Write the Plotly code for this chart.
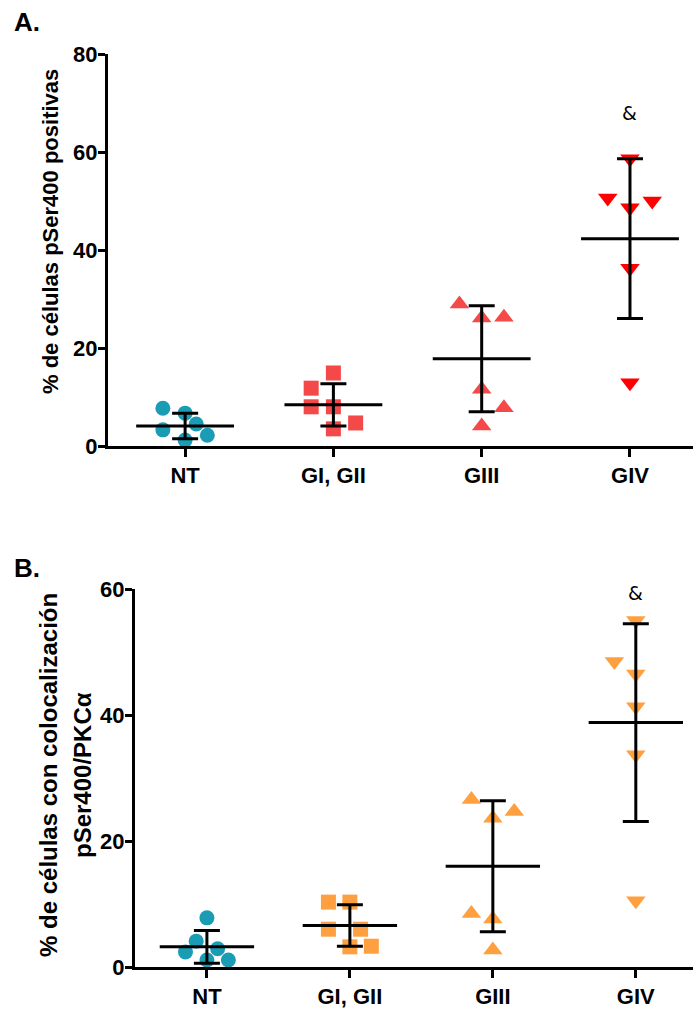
import plotly.graph_objects as go

# ---------------- data ----------------
categories = ["NT", "GI, GII", "GIII", "GIV"]

# Panel A: % de células pSer400 positivas
a_values = [
    [7.7, 6.7, 3.3, 4.5, 2.2, 1.2],
    [11.8, 8.0, 14.9, 8.0, 3.5, 4.7],
    [29.0, 26.1, 26.3, 11.6, 7.8, 4.1],
    [58.6, 50.6, 50.0, 48.6, 36.3, 12.9],
]
a_slots = [
    [-2, 0, -2, 1, 2, 0],
    [-2, -2, 0, 0, 0, 2],
    [-2, 0, 2, 0, 2, 0],
    [0, -2, 2, 0, 0, 0],
]
a_mean = [4.1, 8.4, 17.8, 42.3]
a_sd = [2.6, 4.3, 10.8, 16.3]

# Panel B: % de células con colocalización pSer400/PKCα
b_values = [
    [7.8, 4.1, 2.4, 2.9, 1.1, 1.1],
    [10.3, 10.3, 6.0, 6.0, 3.2, 3.3],
    [26.6, 23.6, 24.7, 8.5, 7.6, 2.7],
    [55.0, 48.5, 46.5, 41.3, 33.7, 10.5],
]
b_slots = [
    [0, -1, -2, 1, 0, 2],
    [-2, 0, -2, 1, 0, 2],
    [-2, 0, 2, -2, 0, 0],
    [0, -2, 0, 0, 0, 0],
]
b_mean = [3.2, 6.6, 16.0, 38.8]
b_sd = [2.6, 3.3, 10.4, 15.7]

a_ticks = [0, 20, 40, 60, 80]
b_ticks = [0, 20, 40, 60]

# ---------------- styles ----------------
symbols = ["circle", "square", "triangle-up", "triangle-down"]
sizes = [15, 15, 17, 17]
a_colors = ["#1a9cb5", "#f54848", "#f54848", "#ff0000"]
b_colors = ["#1a9cb5", "#ffa040", "#ffa040", "#ffa040"]
SLOT = 0.075
HALF = 0.33
FONT = "Liberation Sans, Arial, sans-serif"
W, H = 693, 1009

fig = go.Figure()


def add_panel(values, slots, means, sds, colors, xa, ya):
    for i, (vals, sl) in enumerate(zip(values, slots)):
        fig.add_trace(go.Scatter(
            x=[i + s * SLOT for s in sl], y=vals, mode="markers",
            marker=dict(symbol=symbols[i], size=sizes[i], color=colors[i],
                        line=dict(width=0)),
            xaxis=xa, yaxis=ya, showlegend=False, cliponaxis=False,
            hoverinfo="y"))
    # mean lines
    mx, my = [], []
    for i, m in enumerate(means):
        mx += [i - HALF, i + HALF, None]
        my += [m, m, None]
    fig.add_trace(go.Scatter(x=mx, y=my, mode="lines",
                             line=dict(color="black", width=3),
                             xaxis=xa, yaxis=ya, showlegend=False,
                             cliponaxis=False, hoverinfo="skip"))
    # SD error bars
    fig.add_trace(go.Scatter(
        x=list(range(len(means))), y=means, mode="markers",
        marker=dict(size=1, color="rgba(0,0,0,0)"),
        error_y=dict(type="data", array=sds, visible=True,
                     color="black", thickness=3, width=13),
        xaxis=xa, yaxis=ya, showlegend=False, cliponaxis=False,
        hoverinfo="skip"))


add_panel(a_values, a_slots, a_mean, a_sd, a_colors, "x", "y")
add_panel(b_values, b_slots, b_mean, b_sd, b_colors, "x2", "y2")


def px_x(p):
    return p / W


def px_y(p):
    return 1 - p / H


common_y = dict(showgrid=False, zeroline=False, showline=True,
                automargin=False, ticklabelstandoff=-4,
                linecolor="black", linewidth=3, ticks="outside",
                ticklen=7, tickwidth=3, tickcolor="black",
                tickfont=dict(family=FONT, size=22, color="black",
                              weight="bold"))
common_x = dict(showgrid=False, zeroline=False, showline=True,
                automargin=False,
                linecolor="black", linewidth=3, ticks="outside",
                ticklen=8, tickwidth=3, tickcolor="black",
                tickmode="array", tickvals=[0, 1, 2, 3],
                ticktext=categories,
                tickfont=dict(family=FONT, size=22, color="black",
                              weight="bold"))

fig.update_layout(
    width=W, height=H, margin=dict(l=0, r=0, t=0, b=0, autoexpand=False),
    paper_bgcolor="white", plot_bgcolor="white",
    xaxis=dict(domain=[px_x(108), 1], range=[-0.52, 3.425],
               anchor="y", **common_x),
    yaxis=dict(domain=[px_y(446), px_y(54)], range=[0, 80],
               tickvals=a_ticks, anchor="x", **common_y),
    xaxis2=dict(domain=[px_x(135), 1], range=[-0.503, 3.4],
                anchor="y2", **common_x),
    yaxis2=dict(domain=[px_y(967), px_y(589)], range=[0, 60],
                tickvals=b_ticks, anchor="x2", **common_y),
)

annotations = [
    dict(text="<b>A.</b>", x=px_x(12), y=px_y(22), xanchor="left",
         yanchor="middle", font=dict(size=26)),
    dict(text="<b>B.</b>", x=px_x(12), y=px_y(568), xanchor="left",
         yanchor="middle", font=dict(size=26)),
    dict(text="<b>% de células pSer400 positivas</b>", x=px_x(51),
         y=px_y(232), textangle=-90, xanchor="center", yanchor="middle",
         font=dict(size=22)),
    dict(text="<b>% de células con colocalización</b>", x=px_x(48),
         y=px_y(775), textangle=-90, xanchor="center", yanchor="middle",
         font=dict(size=24)),
    dict(text="<b>pSer400/PKCα</b>", x=px_x(82), y=px_y(775),
         textangle=-90, xanchor="center", yanchor="middle",
         font=dict(size=24)),
]
for a in annotations:
    a.update(xref="paper", yref="paper", showarrow=False)
    a["font"].update(family=FONT, color="black")
    fig.add_annotation(**a)

fig.add_annotation(text="&", x=3, y=68, xref="x", yref="y", showarrow=False,
                   font=dict(family="DejaVu Sans", size=19, color="black"))
fig.add_annotation(text="&", x=3, y=59.4, xref="x2", yref="y2",
                   showarrow=False,
                   font=dict(family="DejaVu Sans", size=19, color="black"))

fig.write_html("out.html")
